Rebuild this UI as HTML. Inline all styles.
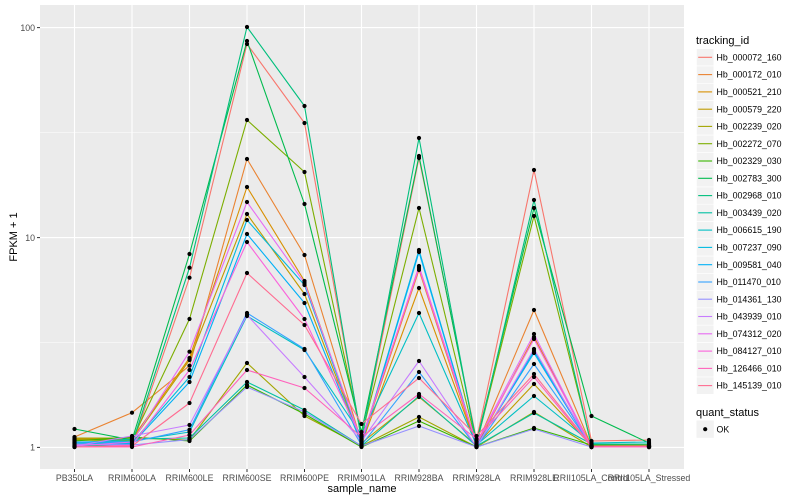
<!DOCTYPE html>
<html><head><meta charset="utf-8"><style>
html,body{margin:0;padding:0;background:#fff;}
svg{display:block;font-family:"Liberation Sans",Arial,sans-serif;}
</style></head><body>
<svg width="800" height="500" viewBox="0 0 800 500" xmlns="http://www.w3.org/2000/svg">
<defs>
<marker id="pt" markerUnits="userSpaceOnUse" markerWidth="6" markerHeight="6" refX="3" refY="3" viewBox="0 0 6 6"><circle cx="3" cy="3" r="2.1" fill="#000"/></marker>
</defs>
<rect width="800" height="500" fill="#fff"/>
<!-- panel -->
<rect x="40" y="5" width="644" height="464" fill="#EBEBEB"/>
<g stroke="#fff" stroke-width="0.55" fill="none">
<line x1="40" x2="684" y1="132.5" y2="132.5"/>
<line x1="40" x2="684" y1="342.5" y2="342.5"/>
</g>
<g stroke="#fff" stroke-width="1.1" fill="none">
<line x1="40" x2="684" y1="27.6" y2="27.6"/>
<line x1="40" x2="684" y1="237.6" y2="237.6"/>
<line x1="40" x2="684" y1="447.4" y2="447.4"/>
<line x1="74.5" x2="74.5" y1="5" y2="469"/>
<line x1="132" x2="132" y1="5" y2="469"/>
<line x1="189.5" x2="189.5" y1="5" y2="469"/>
<line x1="247" x2="247" y1="5" y2="469"/>
<line x1="304.5" x2="304.5" y1="5" y2="469"/>
<line x1="361.5" x2="361.5" y1="5" y2="469"/>
<line x1="419" x2="419" y1="5" y2="469"/>
<line x1="476.5" x2="476.5" y1="5" y2="469"/>
<line x1="534" x2="534" y1="5" y2="469"/>
<line x1="591.5" x2="591.5" y1="5" y2="469"/>
<line x1="649" x2="649" y1="5" y2="469"/>
</g>
<!-- series lines -->
<g fill="none" stroke-width="1.1" stroke-linejoin="round">
<polyline stroke="#F8766D" points="74.5,445 132,446 189.5,277.7 247,44 304.5,123 361.5,438 419,158 476.5,440 534,170 591.5,441 649,440"/>
<polyline stroke="#EA8331" points="74.5,437 132,412.7 189.5,365.7 247,159 304.5,255 361.5,442 419,270 476.5,446 534,310 591.5,446 649,446"/>
<polyline stroke="#D89000" points="74.5,439 132,439 189.5,358 247,187 304.5,281 361.5,444 419,288 476.5,446 534,337 591.5,446 649,446"/>
<polyline stroke="#C09B00" points="74.5,440 132,441 189.5,360 247,214 304.5,294 361.5,443 419,397 476.5,445 534,384 591.5,446 649,446"/>
<polyline stroke="#A3A500" points="74.5,438 132,438 189.5,440 247,363 304.5,416 361.5,446 419,417 476.5,447 534,412 591.5,447 649,447"/>
<polyline stroke="#7CAE00" points="74.5,440 132,440 189.5,319 247,120 304.5,172 361.5,436 419,208 476.5,444 534,216 591.5,445 649,445"/>
<polyline stroke="#39B600" points="74.5,441 132,437 189.5,441 247,385 304.5,414 361.5,447 419,421 476.5,447 534,428 591.5,445 649,444"/>
<polyline stroke="#00BB4E" points="74.5,429 132,440 189.5,254 247,41 304.5,204 361.5,432 419,156 476.5,442 534,208 591.5,416 649,443"/>
<polyline stroke="#00BF7D" points="74.5,446 132,444 189.5,267.7 247,27 304.5,106 361.5,440 419,138 476.5,445 534,200 591.5,446 649,446"/>
<polyline stroke="#00C1A3" points="74.5,443 132,439 189.5,438 247,382 304.5,410 361.5,446 419,396 476.5,446 534,413 591.5,444 649,444"/>
<polyline stroke="#00BFC4" points="74.5,442 132,441 189.5,432 247,316 304.5,350 361.5,435 419,313 476.5,445 534,396 591.5,443 649,442"/>
<polyline stroke="#00BAE0" points="74.5,443 132,443 189.5,377 247,220 304.5,285 361.5,443 419,250 476.5,446 534,351 591.5,446 649,446"/>
<polyline stroke="#00B0F6" points="74.5,444 132,444 189.5,382 247,234 304.5,303 361.5,444 419,252 476.5,446 534,353 591.5,447 649,447"/>
<polyline stroke="#35A2FF" points="74.5,442 132,442 189.5,429.7 247,313 304.5,349 361.5,445 419,372 476.5,447 534,364 591.5,446 649,446"/>
<polyline stroke="#9590FF" points="74.5,444 132,445 189.5,439.6 247,387 304.5,412 361.5,446 419,426 476.5,447 534,429 591.5,447 649,447"/>
<polyline stroke="#C77CFF" points="74.5,446 132,436 189.5,425 247,315 304.5,377 361.5,441 419,361 476.5,447 534,349 591.5,447 649,447"/>
<polyline stroke="#E76BF3" points="74.5,446 132,442 189.5,351.7 247,202 304.5,283 361.5,441 419,266 476.5,443 534,334 591.5,447 649,447"/>
<polyline stroke="#FA62DB" points="74.5,447 132,445 189.5,370 247,242 304.5,319 361.5,439 419,268 476.5,444 534,339 591.5,447 649,447"/>
<polyline stroke="#FF62BC" points="74.5,447 132,447 189.5,435 247,370 304.5,388 361.5,437 419,394 476.5,439 534,377 591.5,447 649,447"/>
<polyline stroke="#FF6C91" points="74.5,447 132,446 189.5,403 247,273 304.5,325 361.5,424 419,378 476.5,436 534,374 591.5,446 649,446"/>
</g>
<!-- points -->
<g fill="none" stroke="none" marker-start="url(#pt)" marker-mid="url(#pt)" marker-end="url(#pt)">
<polyline points="74.5,445 132,446 189.5,277.7 247,44 304.5,123 361.5,438 419,158 476.5,440 534,170 591.5,441 649,440"/>
<polyline points="74.5,437 132,412.7 189.5,365.7 247,159 304.5,255 361.5,442 419,270 476.5,446 534,310 591.5,446 649,446"/>
<polyline points="74.5,439 132,439 189.5,358 247,187 304.5,281 361.5,444 419,288 476.5,446 534,337 591.5,446 649,446"/>
<polyline points="74.5,440 132,441 189.5,360 247,214 304.5,294 361.5,443 419,397 476.5,445 534,384 591.5,446 649,446"/>
<polyline points="74.5,438 132,438 189.5,440 247,363 304.5,416 361.5,446 419,417 476.5,447 534,412 591.5,447 649,447"/>
<polyline points="74.5,440 132,440 189.5,319 247,120 304.5,172 361.5,436 419,208 476.5,444 534,216 591.5,445 649,445"/>
<polyline points="74.5,441 132,437 189.5,441 247,385 304.5,414 361.5,447 419,421 476.5,447 534,428 591.5,445 649,444"/>
<polyline points="74.5,429 132,440 189.5,254 247,41 304.5,204 361.5,432 419,156 476.5,442 534,208 591.5,416 649,443"/>
<polyline points="74.5,446 132,444 189.5,267.7 247,27 304.5,106 361.5,440 419,138 476.5,445 534,200 591.5,446 649,446"/>
<polyline points="74.5,443 132,439 189.5,438 247,382 304.5,410 361.5,446 419,396 476.5,446 534,413 591.5,444 649,444"/>
<polyline points="74.5,442 132,441 189.5,432 247,316 304.5,350 361.5,435 419,313 476.5,445 534,396 591.5,443 649,442"/>
<polyline points="74.5,443 132,443 189.5,377 247,220 304.5,285 361.5,443 419,250 476.5,446 534,351 591.5,446 649,446"/>
<polyline points="74.5,444 132,444 189.5,382 247,234 304.5,303 361.5,444 419,252 476.5,446 534,353 591.5,447 649,447"/>
<polyline points="74.5,442 132,442 189.5,429.7 247,313 304.5,349 361.5,445 419,372 476.5,447 534,364 591.5,446 649,446"/>
<polyline points="74.5,444 132,445 189.5,439.6 247,387 304.5,412 361.5,446 419,426 476.5,447 534,429 591.5,447 649,447"/>
<polyline points="74.5,446 132,436 189.5,425 247,315 304.5,377 361.5,441 419,361 476.5,447 534,349 591.5,447 649,447"/>
<polyline points="74.5,446 132,442 189.5,351.7 247,202 304.5,283 361.5,441 419,266 476.5,443 534,334 591.5,447 649,447"/>
<polyline points="74.5,447 132,445 189.5,370 247,242 304.5,319 361.5,439 419,268 476.5,444 534,339 591.5,447 649,447"/>
<polyline points="74.5,447 132,447 189.5,435 247,370 304.5,388 361.5,437 419,394 476.5,439 534,377 591.5,447 649,447"/>
<polyline points="74.5,447 132,446 189.5,403 247,273 304.5,325 361.5,424 419,378 476.5,436 534,374 591.5,446 649,446"/>
</g>
<!-- axes ticks -->
<g stroke="#333" stroke-width="1">
<line x1="37" x2="40" y1="27.6" y2="27.6"/>
<line x1="37" x2="40" y1="237.6" y2="237.6"/>
<line x1="37" x2="40" y1="447.4" y2="447.4"/>
<line x1="74.5" x2="74.5" y1="469" y2="472"/>
<line x1="132" x2="132" y1="469" y2="472"/>
<line x1="189.5" x2="189.5" y1="469" y2="472"/>
<line x1="247" x2="247" y1="469" y2="472"/>
<line x1="304.5" x2="304.5" y1="469" y2="472"/>
<line x1="361.5" x2="361.5" y1="469" y2="472"/>
<line x1="419" x2="419" y1="469" y2="472"/>
<line x1="476.5" x2="476.5" y1="469" y2="472"/>
<line x1="534" x2="534" y1="469" y2="472"/>
<line x1="591.5" x2="591.5" y1="469" y2="472"/>
<line x1="649" x2="649" y1="469" y2="472"/>
</g>
<g fill="#4D4D4D" font-size="8.8" text-anchor="end">
<text x="35" y="30.8">100</text>
<text x="35" y="240.8">10</text>
<text x="35" y="450.6">1</text>
</g>
<g fill="#4D4D4D" font-size="8.8" text-anchor="middle">
<text x="74.5" y="480.8">PB350LA</text>
<text x="132" y="480.8">RRIM600LA</text>
<text x="189.5" y="480.8">RRIM600LE</text>
<text x="247" y="480.8">RRIM600SE</text>
<text x="304.5" y="480.8">RRIM600PE</text>
<text x="361.5" y="480.8">RRIM901LA</text>
<text x="419" y="480.8">RRIM928BA</text>
<text x="476.5" y="480.8">RRIM928LA</text>
<text x="534" y="480.8">RRIM928LE</text>
<text x="591.5" y="480.8">RRII105LA_Control</text>
<text x="649" y="480.8">RRII105LA_Stressed</text>
</g>
<text x="362" y="492" font-size="11" text-anchor="middle" fill="#000">sample_name</text>
<text transform="translate(17,237) rotate(-90)" font-size="11" text-anchor="middle" fill="#000">FPKM + 1</text>
<!-- legend -->
<text x="696" y="44" font-size="11" fill="#000">tracking_id</text>
<g>
<rect x="696.5" y="48.7" width="17.3" height="17.3" fill="#F2F2F2" stroke="#fff" stroke-width="0.6"/>
<rect x="696.5" y="66" width="17.3" height="17.3" fill="#F2F2F2" stroke="#fff" stroke-width="0.6"/>
<rect x="696.5" y="83.3" width="17.3" height="17.3" fill="#F2F2F2" stroke="#fff" stroke-width="0.6"/>
<rect x="696.5" y="100.6" width="17.3" height="17.3" fill="#F2F2F2" stroke="#fff" stroke-width="0.6"/>
<rect x="696.5" y="117.8" width="17.3" height="17.3" fill="#F2F2F2" stroke="#fff" stroke-width="0.6"/>
<rect x="696.5" y="135.1" width="17.3" height="17.3" fill="#F2F2F2" stroke="#fff" stroke-width="0.6"/>
<rect x="696.5" y="152.4" width="17.3" height="17.3" fill="#F2F2F2" stroke="#fff" stroke-width="0.6"/>
<rect x="696.5" y="169.7" width="17.3" height="17.3" fill="#F2F2F2" stroke="#fff" stroke-width="0.6"/>
<rect x="696.5" y="187" width="17.3" height="17.3" fill="#F2F2F2" stroke="#fff" stroke-width="0.6"/>
<rect x="696.5" y="204.2" width="17.3" height="17.3" fill="#F2F2F2" stroke="#fff" stroke-width="0.6"/>
<rect x="696.5" y="221.5" width="17.3" height="17.3" fill="#F2F2F2" stroke="#fff" stroke-width="0.6"/>
<rect x="696.5" y="238.8" width="17.3" height="17.3" fill="#F2F2F2" stroke="#fff" stroke-width="0.6"/>
<rect x="696.5" y="256.1" width="17.3" height="17.3" fill="#F2F2F2" stroke="#fff" stroke-width="0.6"/>
<rect x="696.5" y="273.4" width="17.3" height="17.3" fill="#F2F2F2" stroke="#fff" stroke-width="0.6"/>
<rect x="696.5" y="290.6" width="17.3" height="17.3" fill="#F2F2F2" stroke="#fff" stroke-width="0.6"/>
<rect x="696.5" y="307.9" width="17.3" height="17.3" fill="#F2F2F2" stroke="#fff" stroke-width="0.6"/>
<rect x="696.5" y="325.2" width="17.3" height="17.3" fill="#F2F2F2" stroke="#fff" stroke-width="0.6"/>
<rect x="696.5" y="342.5" width="17.3" height="17.3" fill="#F2F2F2" stroke="#fff" stroke-width="0.6"/>
<rect x="696.5" y="359.8" width="17.3" height="17.3" fill="#F2F2F2" stroke="#fff" stroke-width="0.6"/>
<rect x="696.5" y="377" width="17.3" height="17.3" fill="#F2F2F2" stroke="#fff" stroke-width="0.6"/>
</g>
<g stroke-width="1.1">
<line x1="698.2" x2="712.1" y1="57.3" y2="57.3" stroke="#F8766D"/>
<line x1="698.2" x2="712.1" y1="74.6" y2="74.6" stroke="#EA8331"/>
<line x1="698.2" x2="712.1" y1="91.9" y2="91.9" stroke="#D89000"/>
<line x1="698.2" x2="712.1" y1="109.2" y2="109.2" stroke="#C09B00"/>
<line x1="698.2" x2="712.1" y1="126.4" y2="126.4" stroke="#A3A500"/>
<line x1="698.2" x2="712.1" y1="143.7" y2="143.7" stroke="#7CAE00"/>
<line x1="698.2" x2="712.1" y1="161" y2="161" stroke="#39B600"/>
<line x1="698.2" x2="712.1" y1="178.3" y2="178.3" stroke="#00BB4E"/>
<line x1="698.2" x2="712.1" y1="195.6" y2="195.6" stroke="#00BF7D"/>
<line x1="698.2" x2="712.1" y1="212.8" y2="212.8" stroke="#00C1A3"/>
<line x1="698.2" x2="712.1" y1="230.1" y2="230.1" stroke="#00BFC4"/>
<line x1="698.2" x2="712.1" y1="247.4" y2="247.4" stroke="#00BAE0"/>
<line x1="698.2" x2="712.1" y1="264.7" y2="264.7" stroke="#00B0F6"/>
<line x1="698.2" x2="712.1" y1="282" y2="282" stroke="#35A2FF"/>
<line x1="698.2" x2="712.1" y1="299.2" y2="299.2" stroke="#9590FF"/>
<line x1="698.2" x2="712.1" y1="316.5" y2="316.5" stroke="#C77CFF"/>
<line x1="698.2" x2="712.1" y1="333.8" y2="333.8" stroke="#E76BF3"/>
<line x1="698.2" x2="712.1" y1="351.1" y2="351.1" stroke="#FA62DB"/>
<line x1="698.2" x2="712.1" y1="368.4" y2="368.4" stroke="#FF62BC"/>
<line x1="698.2" x2="712.1" y1="385.6" y2="385.6" stroke="#FF6C91"/>
</g>
<g font-size="8.8" fill="#000">
<text x="716.5" y="60.4">Hb_000072_160</text>
<text x="716.5" y="77.7">Hb_000172_010</text>
<text x="716.5" y="95">Hb_000521_210</text>
<text x="716.5" y="112.3">Hb_000579_220</text>
<text x="716.5" y="129.5">Hb_002239_020</text>
<text x="716.5" y="146.8">Hb_002272_070</text>
<text x="716.5" y="164.1">Hb_002329_030</text>
<text x="716.5" y="181.4">Hb_002783_300</text>
<text x="716.5" y="198.7">Hb_002968_010</text>
<text x="716.5" y="215.9">Hb_003439_020</text>
<text x="716.5" y="233.2">Hb_006615_190</text>
<text x="716.5" y="250.5">Hb_007237_090</text>
<text x="716.5" y="267.8">Hb_009581_040</text>
<text x="716.5" y="285.1">Hb_011470_010</text>
<text x="716.5" y="302.3">Hb_014361_130</text>
<text x="716.5" y="319.6">Hb_043939_010</text>
<text x="716.5" y="336.9">Hb_074312_020</text>
<text x="716.5" y="354.2">Hb_084127_010</text>
<text x="716.5" y="371.5">Hb_126466_010</text>
<text x="716.5" y="388.7">Hb_145139_010</text>
</g>
<text x="696" y="416" font-size="11" fill="#000">quant_status</text>
<rect x="696.5" y="420.5" width="17.3" height="17.3" fill="#F2F2F2"/>
<circle cx="705.2" cy="429.2" r="2.1" fill="#000"/>
<text x="716.5" y="432.3" font-size="8.8" fill="#000">OK</text>
</svg>
</body></html>
